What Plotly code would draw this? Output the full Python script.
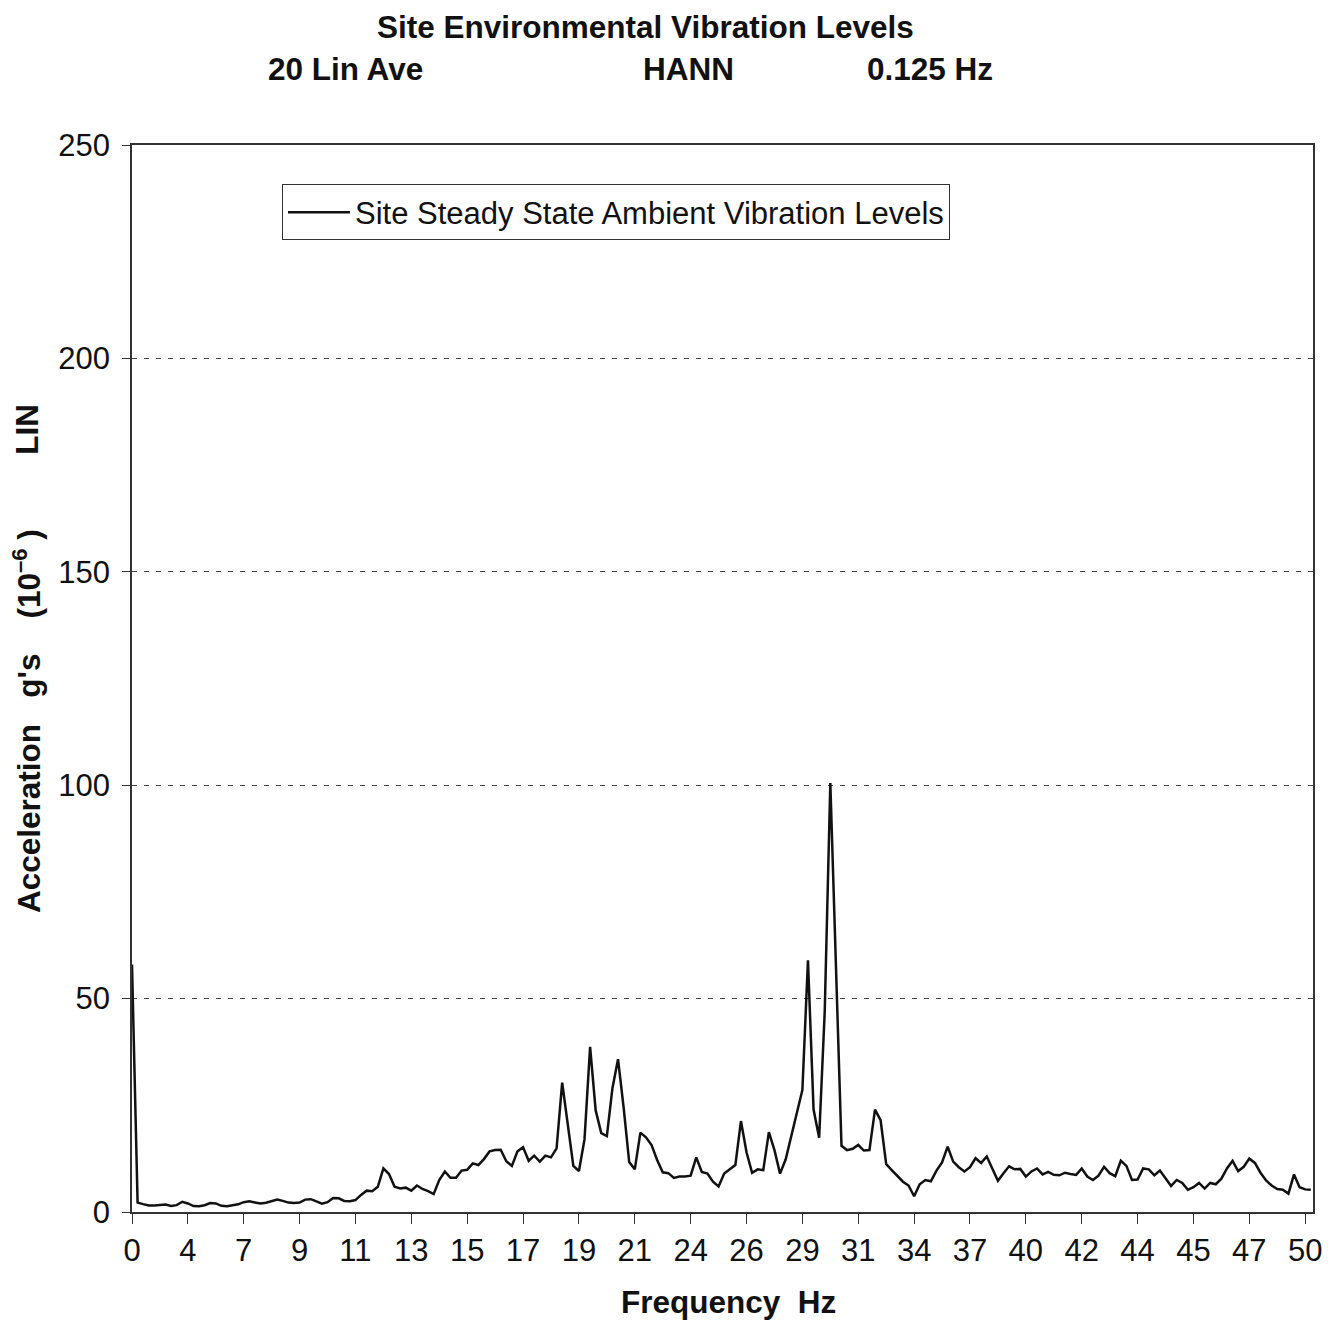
import plotly.graph_objects as go

# x axis is a category axis: 10 samples per labelled tick interval
TICK_LABELS = ["0", "4", "7", "9", "11", "13", "15", "17", "19", "21", "24", "26",
               "29", "31", "34", "37", "40", "42", "44", "45", "47", "50"]
PTS_PER_TICK = 10

# acceleration, g's x 1e-6
ACCEL = [
    58, 2.2, 1.85, 1.55, 1.55, 1.7, 1.75, 1.4, 1.6, 2.4,
    2.0, 1.4, 1.35, 1.6, 2.1, 2.0, 1.45, 1.35, 1.55, 1.8,
    2.3, 2.5, 2.25, 2.0, 2.15, 2.6, 2.9, 2.6, 2.2, 2.1,
    2.2, 2.9, 3.0, 2.5, 1.95, 2.3, 3.3, 3.2, 2.6, 2.5,
    2.8, 4.0, 5.0, 4.85, 5.9, 10.2, 8.9, 5.9, 5.5, 5.7,
    5.0, 6.2, 5.4, 4.9, 4.2, 7.5, 9.5, 8.0, 8.0, 9.7,
    9.9, 11.4, 11.0, 12.4, 14.2, 14.5, 14.6, 11.9, 10.8, 14.2,
    15.2, 12.0, 13.2, 11.8, 13.2, 12.8, 14.9, 30.3, 21.0, 10.8,
    9.6, 17.0, 38.7, 23.8, 18.5, 17.8, 29.0, 35.8, 24.5, 11.7,
    10.0, 18.6, 17.5, 15.7, 12.2, 9.3, 9.1, 8.0, 8.3, 8.3,
    8.5, 12.8, 9.4, 9.0, 7.1, 6.0, 9.0, 10.0, 11.0, 21.3,
    14.0, 9.2, 10.0, 9.8, 18.7, 14.5, 9.0, 12.3, 17.8, 23.0,
    28.6, 59.0, 24.0, 17.4, 47.0, 100.5, 56.0, 15.5, 14.5, 14.8,
    15.7, 14.4, 14.5, 24.0, 21.5, 11.2, 9.8, 8.5, 7.1, 6.2,
    3.7, 6.5, 7.5, 7.2, 9.7, 11.6, 15.3, 11.8, 10.5, 9.5,
    10.5, 12.6, 11.5, 13.0, 10.3, 7.3, 9.1, 10.7, 10.0, 10.1,
    8.3, 9.5, 10.2, 8.8, 9.4, 8.7, 8.6, 9.2, 8.9, 8.7,
    10.2, 8.3, 7.5, 8.5, 10.6, 9.1, 8.4, 12.0, 10.8, 7.5,
    7.6, 10.2, 10.0, 8.6, 9.7, 7.8, 6.1, 7.5, 6.8, 5.2,
    5.8, 6.8, 5.5, 6.8, 6.5, 7.8, 10.2, 12.0, 9.6, 10.6,
    12.5, 11.5, 9.2, 7.4, 6.2, 5.4, 5.2, 4.3, 8.8, 5.8,
    5.3, 5.2,
]
Y_TICKS = [0, 50, 100, 150, 200, 250]

FONT = "Liberation Sans, Arial, sans-serif"
INK = "#111111"
AX = "#333333"
NB = "\u00a0"

idx = list(range(len(ACCEL)))
tickvals = [i * PTS_PER_TICK for i in range(len(TICK_LABELS))]

fig = go.Figure(go.Scatter(x=idx, y=ACCEL, mode="lines",
                           name="Site Steady State Ambient Vibration Levels",
                           line=dict(color=INK, width=2.5)))

# page body adds ~8px offset, so the figure is a bit smaller than the window
fig.update_layout(
    width=1335, height=1316,
    margin=dict(l=124, r=30, t=137, b=112),
    paper_bgcolor="white", plot_bgcolor="white",
    font=dict(family=FONT, color=INK, size=31),
    showlegend=True,
    legend=dict(x=0.127, y=0.963, xanchor="left", yanchor="top",
                bordercolor=AX, borderwidth=1, bgcolor="white",
                font=dict(size=31, color=INK), itemwidth=62),
)
fig.update_xaxes(range=[0, 211.4], tickvals=tickvals, ticktext=TICK_LABELS,
                 showline=True, linecolor=AX, linewidth=1.5, mirror=True,
                 ticks="outside", ticklen=10, tickcolor=AX, showgrid=False,
                 zeroline=False, tickfont=dict(size=31))
fig.update_yaxes(range=[0, 250], tickvals=Y_TICKS,
                 showline=True, linecolor=AX, linewidth=1.5, mirror=True,
                 ticks="outside", ticklen=8, tickcolor=AX, ticklabelstandoff=6,
                 showgrid=True, gridcolor="#444444", gridwidth=1, griddash="5px,7px",
                 zeroline=False, tickfont=dict(size=31))

ann = dict(showarrow=False, font=dict(family=FONT, size=31.5, color=INK))
fig.add_annotation(text="<b>Site Environmental Vibration Levels</b>", xref="paper", yref="paper",
                   x=0.4344, y=1.128, xanchor="center", yanchor="top", borderpad=0, **ann)
for txt, px_ in [("20 Lin Ave", 0.1804), ("HANN", 0.4716), ("0.125 Hz", 0.6757)]:
    fig.add_annotation(text=f"<b>{txt}</b>", xref="paper", yref="paper",
                       x=px_, y=1.0712, xanchor="center", yanchor="middle", **ann)
fig.add_annotation(text=f"<b>Frequency{NB*2}Hz</b>", xref="paper", yref="paper",
                   x=0.5047, y=-0.0843, xanchor="center", yanchor="middle", **ann)
fig.add_annotation(text=f"<b>Acceleration{NB*3}g's{NB*4}(10<sup>\u20136</sup>{NB})</b>",
                   xref="paper", yref="y", x=-0.089, y=115, textangle=-90,
                   xanchor="center", yanchor="middle", **ann)
fig.add_annotation(text="<b>LIN</b>", xref="paper", yref="y", x=-0.089, y=183.5,
                   textangle=-90, xanchor="center", yanchor="middle", **ann)

fig.write_html("out.html")
